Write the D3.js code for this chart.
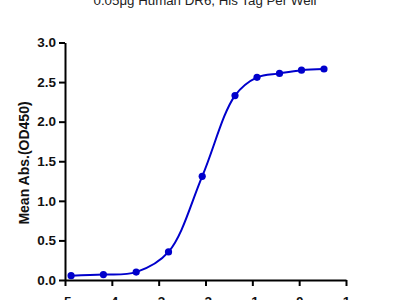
<!DOCTYPE html>
<html><head><meta charset="utf-8">
<script src="https://cdn.jsdelivr.net/npm/d3@7"></script>
<style>body{margin:0;background:#fff}svg{display:block}</style>
</head><body>
<script>
const title = "0.05μg Human DR6, His Tag Per Well";
const yLabel = "Mean Abs.(OD450)";
const logConc = [-4.87, -4.18, -3.48, -2.79, -2.07, -1.37, -0.90, -0.42, 0.05, 0.53];
const absValues = [0.055, 0.068, 0.10, 0.355, 1.31, 2.33, 2.56, 2.61, 2.65, 2.665];
const xTicks = [-5, -4, -3, -2, -1, 0, 1];
const yTicks = [0, 0.5, 1.0, 1.5, 2.0, 2.5, 3.0];

const W = 400, H = 300;
const font = "Liberation Sans, Arial, sans-serif";
const svg = d3.select("body").append("svg").attr("width", W).attr("height", H);
const x = d3.scaleLinear().domain([-5, 1]).range([65, 346]);
const y = d3.scaleLinear().domain([0, 3]).range([280, 42.5]);

svg.append("text").attr("x", 205).attr("y", 5).attr("text-anchor", "middle")
  .attr("font-family", font).attr("font-size", 13.3)
  .attr("fill", "#222").text(title);

const yAxis = svg.append("g").attr("transform", "translate(65,0)")
  .call(d3.axisLeft(y).tickValues(yTicks).tickFormat(d3.format(".1f")).tickSize(6).tickPadding(3).tickSizeOuter(0));
const xAxis = svg.append("g").attr("transform", "translate(0,280)")
  .call(d3.axisBottom(x).tickValues(xTicks).tickFormat(d => d < 0 ? "-" + Math.abs(d) : d).tickSize(6).tickPadding(10).tickSizeOuter(0));
[yAxis, xAxis].forEach(g => {
  g.select(".domain").attr("stroke", "#000").attr("stroke-width", 2);
  g.selectAll(".tick line").attr("stroke", "#000").attr("stroke-width", 2);
  g.selectAll("text").attr("font-family", font)
    .attr("font-size", 13.5).attr("font-weight", "bold").attr("fill", "#111");
});

svg.append("text").attr("transform", "translate(29,163) rotate(-90)")
  .attr("text-anchor", "middle").attr("font-family", font)
  .attr("font-size", 14).attr("font-weight", "bold").attr("fill", "#111").text(yLabel);

const data = logConc.map((c, i) => ({c, v: absValues[i]}));
const line = d3.line().x(d => x(d.c)).y(d => y(d.v)).curve(d3.curveCatmullRom.alpha(0.5));
svg.append("path").datum(data).attr("d", line).attr("fill", "none")
  .attr("stroke", "#0000cc").attr("stroke-width", 2);
svg.selectAll("circle.pt").data(data).enter().append("circle")
  .attr("cx", d => x(d.c)).attr("cy", d => y(d.v)).attr("r", 3.6).attr("fill", "#0000cc");
</script>
</body></html>
